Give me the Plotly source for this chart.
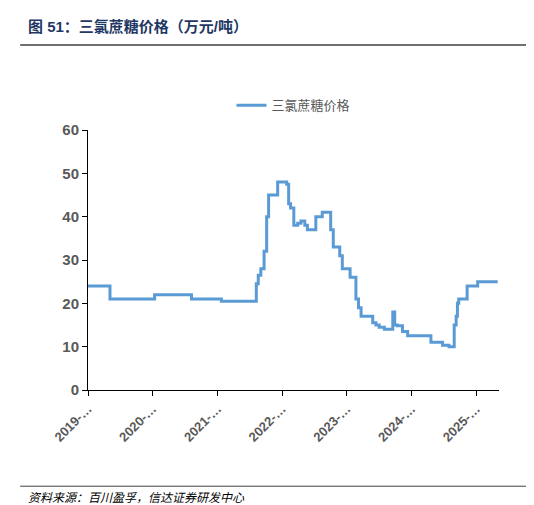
import plotly.graph_objects as go
import pandas as pd

# decimal-year positions and price values (万元/吨)
years = [2019.0, 2019.34, 2020.03, 2020.6, 2021.06, 2021.6, 2021.63, 2021.67, 2021.72, 2021.76, 2021.79,
         2021.93, 2022.07, 2022.1, 2022.13, 2022.18, 2022.24, 2022.29, 2022.35, 2022.39, 2022.49, 2022.52,
         2022.6, 2022.62, 2022.72, 2022.75, 2022.79, 2022.86, 2022.89, 2022.93, 2023.02, 2023.05, 2023.11,
         2023.14, 2023.18, 2023.22, 2023.37, 2023.4, 2023.45, 2023.5, 2023.58, 2023.68, 2023.71, 2023.74,
         2023.78, 2023.86, 2023.94, 2024.25, 2024.3, 2024.4, 2024.48, 2024.58, 2024.65, 2024.66, 2024.69,
         2024.71, 2024.73, 2024.84, 2024.86, 2025.01, 2025.02, 2025.33]
price = [24, 21, 22, 21, 20.5, 24.5, 26.5, 28, 32, 40, 45,
         48, 47.5, 43, 42, 38, 38.5, 39, 38, 37, 37, 40,
         40, 41, 41, 37, 33, 33, 31, 28, 28, 26, 26,
         21, 19, 17, 17, 15.5, 15, 14.5, 14, 14, 18, 15,
         14.8, 13.5, 12.5, 12.5, 11, 11, 10.3, 10, 10, 15, 17,
         20, 21, 21, 24, 24, 25, 25]
tick_years = [2019, 2020, 2021, 2022, 2023, 2024, 2025]
tick_labels = [f"{y}-…" for y in tick_years]

def to_date(y):
    yi = int(y)
    start = pd.Timestamp(yi, 1, 1)
    return start + pd.Timedelta(days=(y - yi) * 365)

dates = [to_date(y) for y in years]

fig = go.Figure(go.Scatter(x=dates, y=price, mode="lines", line=dict(color="#5B9BD5", width=3, shape="hv"),
                           name="三氯蔗糖价格"))
font = "Liberation Sans, Noto Sans CJK SC, sans-serif"
fig.update_layout(
    width=534, height=505, paper_bgcolor="white", plot_bgcolor="white",
    margin=dict(l=80, r=43, t=122, b=123, autoexpand=False),
    font=dict(family=font, color="#595959", size=14),
    showlegend=True,
    legend=dict(orientation="h", x=0.5, xanchor="center", y=1.095, yanchor="middle",
                font=dict(size=13, color="#595959")),
    xaxis=dict(tickvals=[pd.Timestamp(y, 1, 1) for y in tick_years], ticktext=[f"<b>{t}</b>" for t in tick_labels],
               tickangle=-45, range=[pd.Timestamp(2019, 1, 1), to_date(2025.35)],
               showline=True, linecolor="black", linewidth=1, ticks="outside", ticklen=5,
               tickcolor="black", showgrid=False, tickfont=dict(size=13, color="#595959")),
    yaxis=dict(range=[0, 60], dtick=10, showline=True, linecolor="black", ticks="outside",
               ticklen=5, tickcolor="black", showgrid=False, tickfont=dict(size=15, color="#595959"),
               tickvals=[0, 10, 20, 30, 40, 50, 60], ticktext=[f"<b>{v}</b>" for v in [0, 10, 20, 30, 40, 50, 60]],
               zeroline=False),
    shapes=[dict(type="line", xref="paper", yref="paper", x0=-0.165, x1=1.1, y0=1.327, y1=1.327,
                 line=dict(color="#404040", width=1.5)),
            dict(type="line", xref="paper", yref="paper", x0=-0.165, x1=1.1, y0=-0.37, y1=-0.37,
                 line=dict(color="#404040", width=1))],
    annotations=[
        dict(text="<b>图 51：三氯蔗糖价格（万元/吨）</b>", xref="paper", yref="paper", x=-0.15, y=1.40,
             xanchor="left", yanchor="middle", showarrow=False, font=dict(size=15, color="#1F3864")),
        dict(text="<i>资料来源：百川盈孚，信达证券研发中心</i>", xref="paper", yref="paper", x=-0.15, y=-0.415,
             xanchor="left", yanchor="middle", showarrow=False, font=dict(size=12, color="#000000")),
    ],
)
fig.write_html("out.html")
